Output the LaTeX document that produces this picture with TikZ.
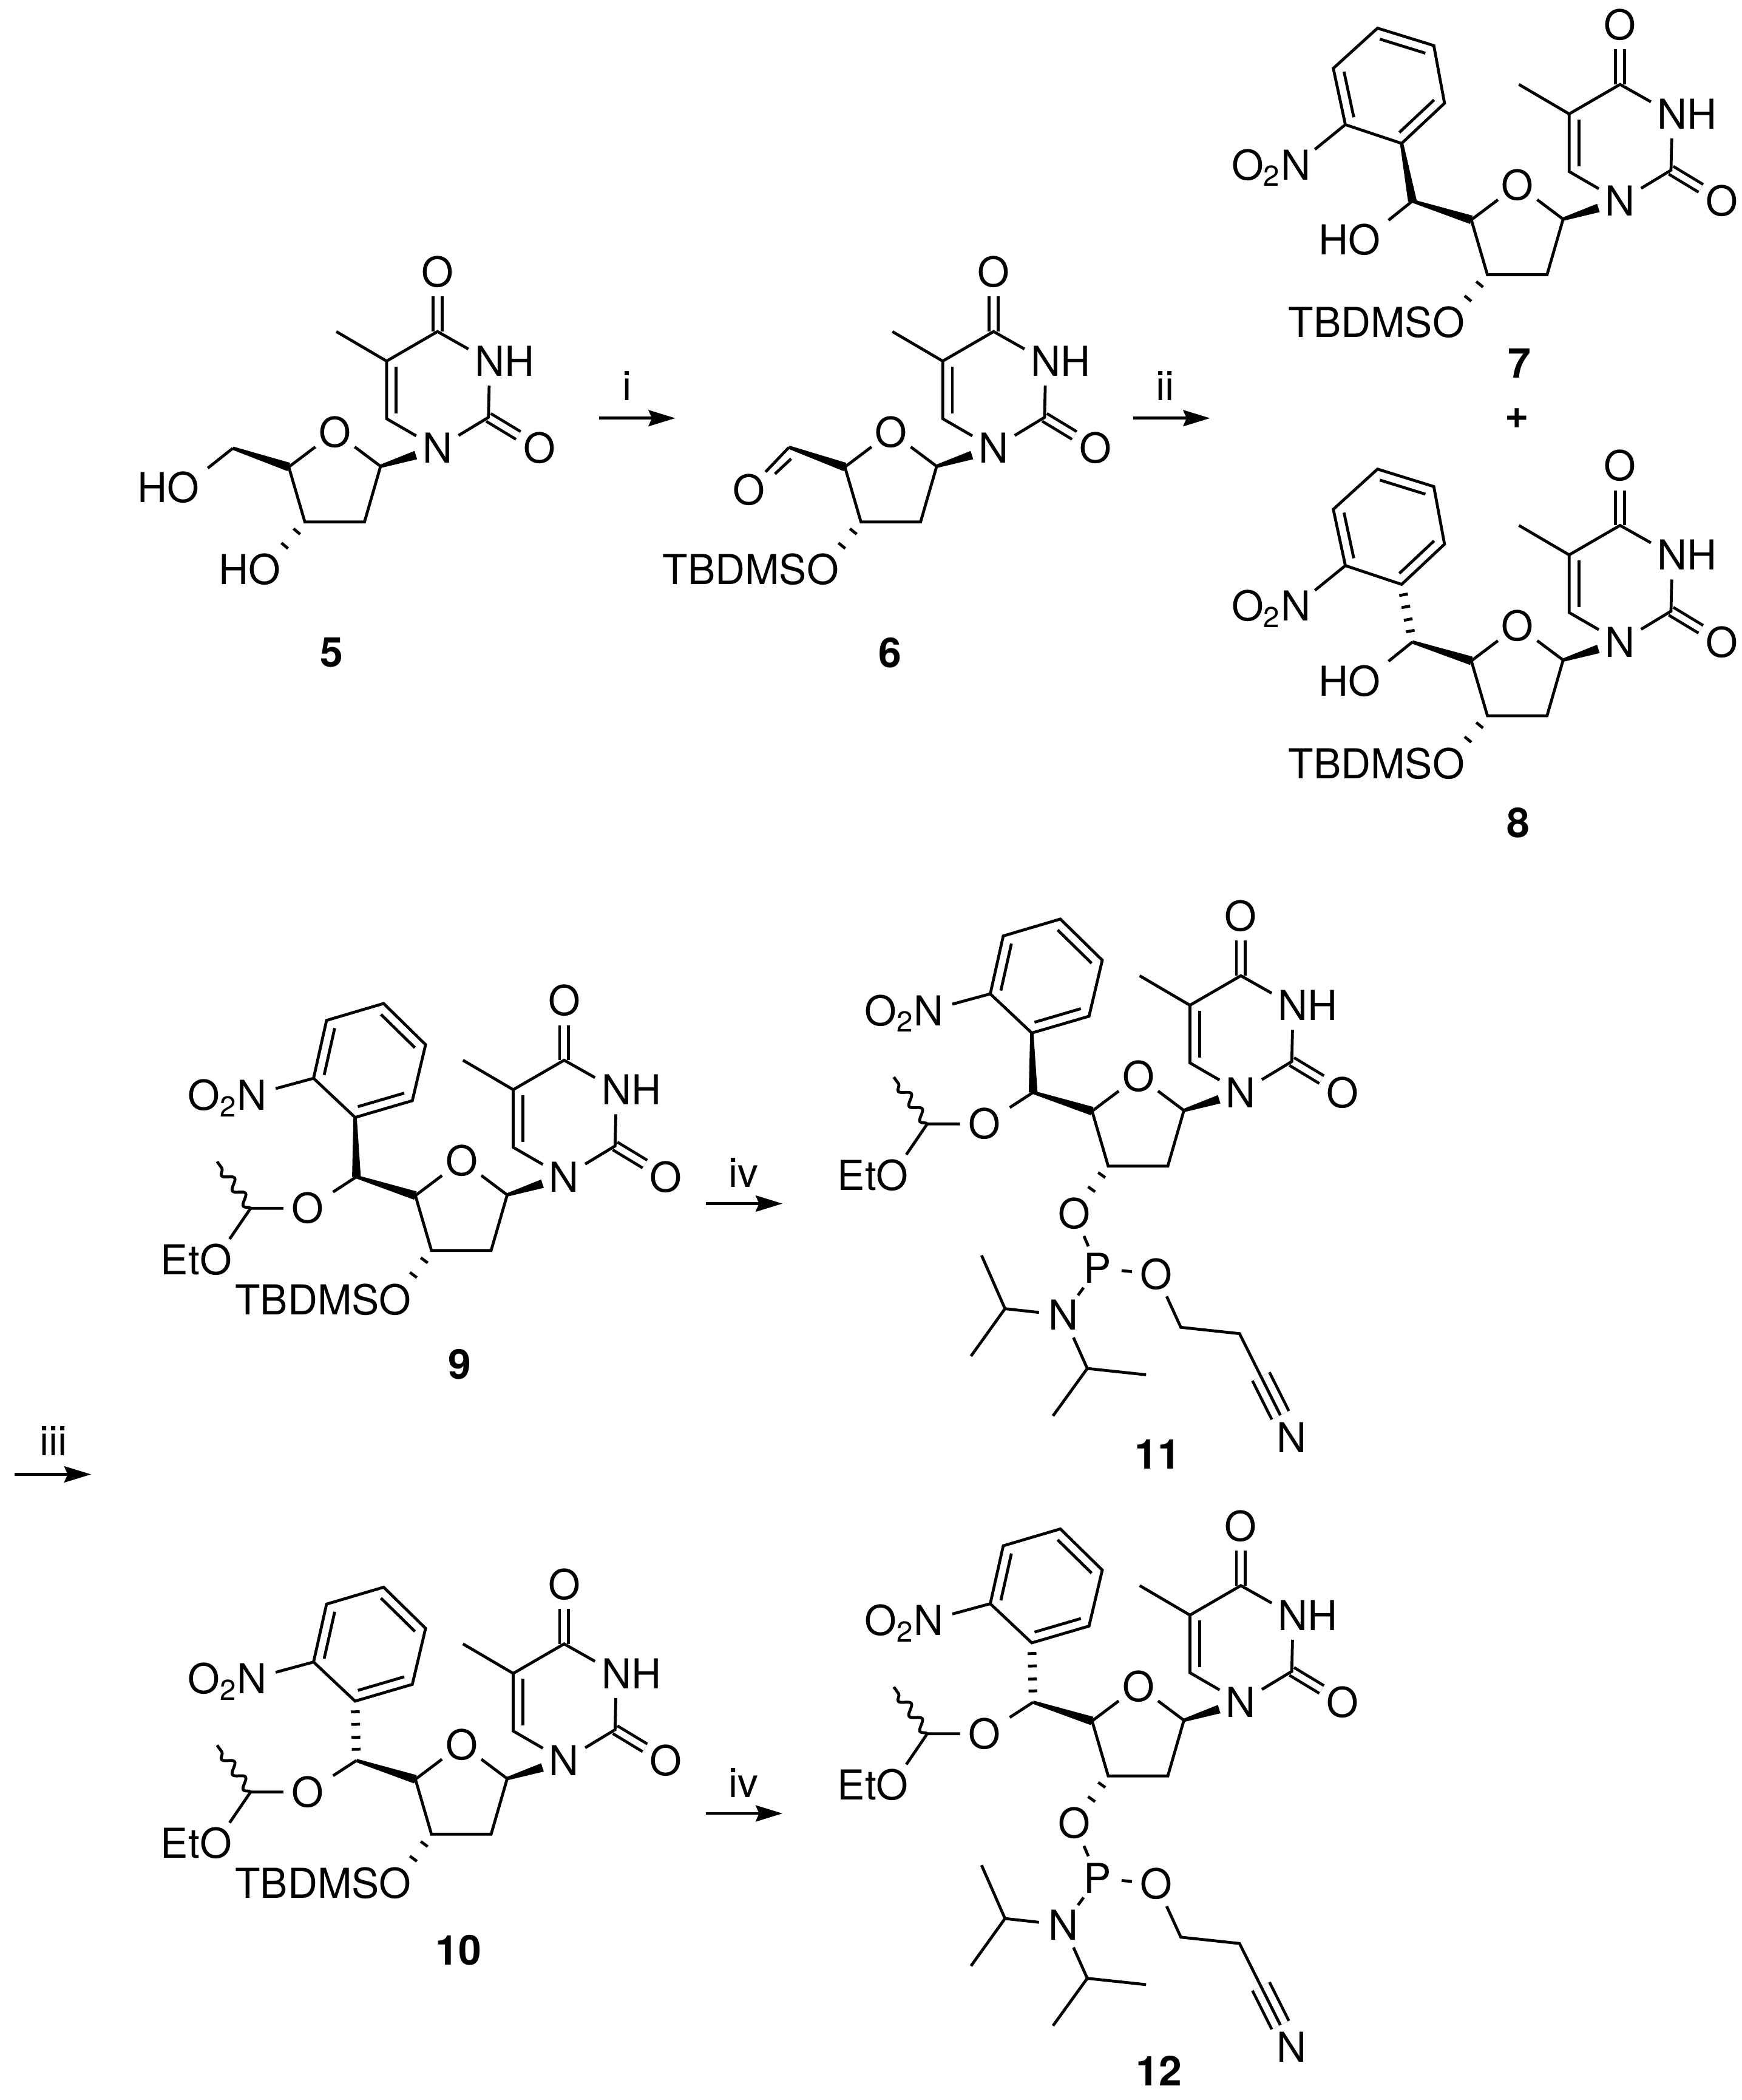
\documentclass[tikz,border=0pt]{standalone}
\usepackage{fontspec}
\setmainfont{TeX Gyre Heros}
\usetikzlibrary{calc, arrows.meta, decorations.pathmorphing}
\tikzstyle{atom} = [circle, inner sep=0pt, minimum size=.72cm, font=\fontsize{17.5}{20}\selectfont]
\tikzstyle{phos} = [atom, minimum size=.7cm]
\tikzstyle{cpd} = [inner sep=0pt, font=\fontsize{17.5}{20}\selectfont\bfseries]
\tikzstyle{reagent} = [inner sep=0pt, font=\fontsize{17.5}{20}\selectfont]
\tikzstyle{bond} = [line width=.043cm]
\tikzstyle{dbl} = [bond, double, double distance=.09cm]
\tikzstyle{arrow} = [line width=.043cm, -{Stealth[length=.4cm, width=.24cm, inset=.05cm]}]
\newcommand{\wedgebond}[3][0pt]{%
  \coordinate (wtip) at ($(#3)!#1!(#2)$);
  \fill ($(#2)!.025cm!90:(wtip)$) -- ($(wtip)!.065cm!-90:(#2)$) -- ($(wtip)!.065cm!90:(#2)$) -- ($(#2)!.025cm!-90:(wtip)$) -- cycle;}
\newcommand{\hashbond}[3]{%
  \foreach \hpos in {#3}
    \draw [bond] ($(#1)!\hpos!(#2)!.065cm!90:(#2)$) -- ($(#1)!\hpos!(#2)!.065cm!-90:(#2)$);}
\newcommand{\innerbond}[3]{%
  \draw [bond] ($(#1)!.19!(#3)$) -- ($(#2)!.19!(#3)$);}
\tikzset{
  pics/core/.style={code={
    % thymine and furanose, drawn from N1
    \node [atom] (N1) at (0,0) {N};
    \node [atom] (N3) at (39,-65) {N\rlap{H}};
    \node [atom] (O4) at (0,-131.5) {O};
    \node [atom] (O2) at (76,0) {O};
    \node [atom] (O1p) at (-76.5,-12) {O};
    \coordinate (C2) at (38,-23);
    \coordinate (C4) at (0,-87);
    \coordinate (C5) at (-38,-65);
    \coordinate (C6) at (-38,-22);
    \coordinate (Me) at (-75.5,-87);
    \coordinate (ctr) at (0,-43.5);
    \coordinate (C1p) at (-42.5,13.5);
    \coordinate (C2p) at (-54.5,55);
    \coordinate (C3p) at (-99,55);
    \coordinate (C4p) at (-111,14);
    \draw [dbl] (C4) -- (O4);
    \draw [dbl] (C2) -- (O2);
    \draw [bond] (N1) -- (C6) -- (C5) -- (C4) -- (N3) -- (C2) -- (N1);
    \draw [bond] (C5) -- (Me);
    \innerbond{C5}{C6}{ctr}
    \draw [bond] (O1p) -- (C1p) -- (C2p) -- (C3p) -- (C4p) -- (O1p);
    \wedgebond[.34cm]{C1p}{N1}
  }},
  pics/arylA/.style={code={
    \coordinate (CH) at (-155,0);
    \coordinate (ipso) at (-163,-43);
    \coordinate (a2) at (-205,-57);
    \coordinate (a3) at (-214,-99);
    \coordinate (a4) at (-181,-129);
    \coordinate (a5) at (-139,-116);
    \coordinate (a6) at (-131,-73);
    \coordinate (actr) at (-172,-86);
    \node [atom] (NO) at (-242,-27) {\smash{\llap{O\textsubscript{2}}}N};
    \node [atom] (OH) at (-191,29) {\llap{H}O};
    \draw [bond] (ipso) -- (a2) -- (a3) -- (a4) -- (a5) -- (a6) -- cycle;
    \innerbond{ipso}{a6}{actr}
    \innerbond{a2}{a3}{actr}
    \innerbond{a4}{a5}{actr}
    \draw [bond] (a2) -- (NO);
    \draw [bond, shorten >=.1cm] (CH) -- (OH);
    \wedgebond{CH}{C4p}
  }},
  pics/arylB/.style={code={
    \coordinate (CH) at (-155,0);
    \coordinate (ipso) at (-156,-44.3);
    \coordinate (a2) at (-187,-73.5);
    \coordinate (a3) at (-177.3,-116.7);
    \coordinate (a4) at (-134.7,-129.3);
    \coordinate (a5) at (-103.4,-98.6);
    \coordinate (a6) at (-113.3,-56.8);
    \coordinate (actr) at (-145.3,-86.5);
    \coordinate (AcC) at (-234,23.5);
    \coordinate (AcMe) at (-259,-11.4);
    \node [atom] (NO) at (-233,-61) {\smash{\llap{O\textsubscript{2}}}N};
    \node [atom] (OAc) at (-191.2,23.5) {O};
    \node [atom] (OEt) at (-260,61.6) {\llap{Et}O};
    \draw [bond] (ipso) -- (a2) -- (a3) -- (a4) -- (a5) -- (a6) -- cycle;
    \innerbond{ipso}{a6}{actr}
    \innerbond{a2}{a3}{actr}
    \innerbond{a4}{a5}{actr}
    \draw [bond] (a2) -- (NO);
    \draw [bond, shorten >=.08cm] (CH) -- (OAc);
    \draw [bond] (OAc) -- (AcC) -- (OEt);
    \draw [bond, decorate, decoration={snake, amplitude=.07cm, segment length=.28cm}] (AcC) -- (AcMe);
    \wedgebond{CH}{C4p}
  }},
  pics/amidite/.style={code={
    \node [atom] (O3) at (-124.3,90.3) {O};
    \node [phos] (P) at (-106.8,131.3) {P};
    \node [atom] (OCE) at (-63,135.5) {O};
    \node [atom] (NP) at (-132.4,166.2) {N};
    \node [atom] (CN) at (37.7,257.3) {N};
    \coordinate (iA) at (-176,161.4);
    \coordinate (iAa) at (-193.5,121.6);
    \coordinate (iAb) at (-201.4,196.8);
    \coordinate (iB) at (-114.6,206);
    \coordinate (iBa) at (-70.7,210.7);
    \coordinate (iBb) at (-140.2,241.4);
    \coordinate (CEa) at (-44.8,175.3);
    \coordinate (CEb) at (-1,180);
    \coordinate (CEc) at (15,212);
    \draw [bond, double, double distance=.24cm] (CEc) -- (CN);
    \draw [bond] (O3) -- (P) -- (OCE) -- (CEa) -- (CEb) -- (CN);
    \draw [bond] (P) -- (NP) -- (iA) -- (iAa);
    \draw [bond] (iA) -- (iAb);
    \draw [bond] (NP) -- (iB) -- (iBa);
    \draw [bond] (iB) -- (iBb);
    \hashbond{C3p}{O3}{.19,.49}
  }}
}
\begin{document}
\begin{tikzpicture}[x=.02cm, y=-.02cm]
  \useasboundingbox (0,0) rectangle (1300,1566.8);

  % 5
  \pic (m5-) at (326.5,334.4) {core};
  \coordinate (m5-C5p) at (173.8,334.4);
  \node [atom] (m5-O5) at (136.8,363.8) {\llap{H}O};
  \node [atom] (m5-O3) at (197.5,424.9) {\llap{H}O};
  \node [cpd] (lab5) at (247.4,487) {5};
  \wedgebond{m5-C5p}{m5-C4p}
  \draw [bond, shorten >=.1cm] (m5-C5p) -- (m5-O5);
  \hashbond{m5-C3p}{m5-O3}{.2,.5}

  % 6
  \pic (m6-) at (741.5,334.4) {core};
  \coordinate (m6-C5p) at (588.8,333.7);
  \node [atom] (m6-O5) at (558.7,365.4) {O};
  \node [atom] (m6-O3) at (614,424.9) {\llap{TBDMS}O};
  \node [cpd] (lab6) at (664,487) {6};
  \wedgebond{m6-C5p}{m6-C4p}
  \draw [bond] (m6-C5p) -- (m6-O5);
  \draw [bond] (578.3,353.6) -- (590.4,342.3);
  \hashbond{m6-C3p}{m6-O3}{.2,.5}

  % 7 and 8
  \pic (m7-) at (1209,150) {core};
  \pic (m7-) at (1209,150) {arylA};
  \node [atom] (m7-O3) at (1081,240.5) {\llap{TBDMS}O};
  \node [cpd] (lab7) at (1134,271) {7};
  \wedgebond{m7-ipso}{m7-CH}
  \hashbond{m7-C3p}{m7-O3}{.2,.5}
  \node [cpd] (plus) at (1132,312) {+};
  \pic (m8-) at (1209,479) {core};
  \pic (m8-) at (1209,479) {arylA};
  \node [atom] (m8-O3) at (1081,569.5) {\llap{TBDMS}O};
  \node [cpd] (lab8) at (1133,614) {8};
  \hashbond{m8-ipso}{m8-CH}{.18,.39,.61,.81}
  \hashbond{m8-C3p}{m8-O3}{.2,.5}

  % 9 and 10
  \pic (m9-) at (421,878) {core};
  \pic (m9-) at (421,878) {arylB};
  \node [atom] (m9-O3) at (295,969.5) {\llap{TBDMS}O};
  \node [cpd] (lab9) at (343,1018) {9};
  \wedgebond{m9-ipso}{m9-CH}
  \hashbond{m9-C3p}{m9-O3}{.2,.5}
  \pic (m10-) at (421,1313.5) {core};
  \pic (m10-) at (421,1313.5) {arylB};
  \node [atom] (m10-O3) at (295,1405) {\llap{TBDMS}O};
  \node [cpd] (lab10) at (342,1455) {10};
  \hashbond{m10-ipso}{m10-CH}{.18,.39,.61,.81}
  \hashbond{m10-C3p}{m10-O3}{.2,.5}

  % 11 and 12
  \pic (m11-) at (926,815) {core};
  \pic (m11-) at (926,815) {arylB};
  \pic (m11-) at (926,815) {amidite};
  \node [cpd] (lab11) at (864,1085) {11};
  \wedgebond{m11-ipso}{m11-CH}
  \pic (m12-) at (926,1270) {core};
  \pic (m12-) at (926,1270) {arylB};
  \pic (m12-) at (926,1270) {amidite};
  \node [cpd] (lab12) at (865,1545) {12};
  \hashbond{m12-ipso}{m12-CH}{.18,.39,.61,.81}

  % reaction arrows
  \coordinate (ai) at (447,312);
  \coordinate (aie) at (504,312);
  \node [reagent] (ri) at (468,288) {i};
  \draw [arrow] (ai) -- (aie);
  \coordinate (aii) at (845.6,312);
  \coordinate (aiie) at (903,312);
  \node [reagent] (rii) at (869.5,288) {ii};
  \draw [arrow] (aii) -- (aiie);
  \coordinate (aiii) at (11,1100);
  \coordinate (aiiie) at (68,1100);
  \node [reagent] (riii) at (40,1075) {iii};
  \draw [arrow] (aiii) -- (aiiie);
  \coordinate (aiv) at (527,898);
  \coordinate (aive) at (584,898);
  \node [reagent] (riv) at (555,875) {iv};
  \draw [arrow] (aiv) -- (aive);
  \coordinate (av) at (527,1353);
  \coordinate (ave) at (584,1353);
  \node [reagent] (rv) at (555,1330) {iv};
  \draw [arrow] (av) -- (ave);
\end{tikzpicture}
\end{document}
